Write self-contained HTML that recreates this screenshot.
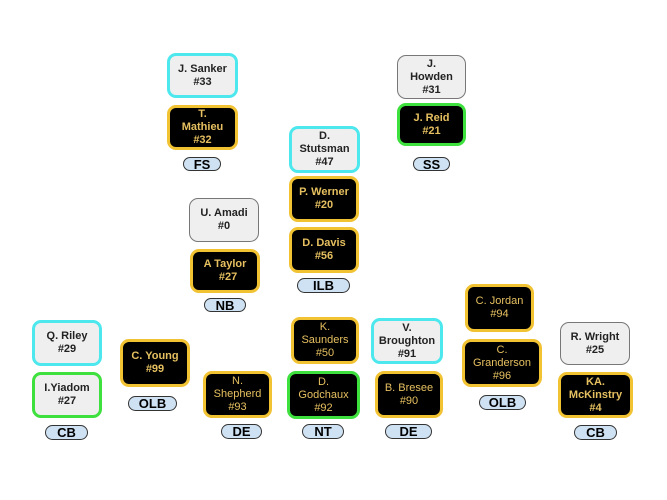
<!DOCTYPE html>
<html>
<head>
<meta charset="utf-8">
<style>
  html,body{margin:0;padding:0;background:#fff;}
  body{width:667px;height:500px;position:relative;overflow:hidden;font-family:"Liberation Sans",Arial,sans-serif;}
  .b{position:absolute;box-sizing:border-box;border-radius:9px;display:flex;align-items:center;justify-content:center;text-align:center;font-size:11px;line-height:13px;}
  .lt{background:#efefef;color:#222;font-weight:bold;}
  .dk{background:#000;color:#e6c060;}
  .bold{font-weight:bold;}
  .cy{border:3px solid #4de8ee;}
  .gy{border:1px solid #777;}
  .gd{border:3px solid #f1c232;}
  .gr{border:3px solid #3de03d;}
  .p{position:absolute;box-sizing:border-box;border:1px solid #333;background:#cfe2f3;border-radius:8px;display:flex;align-items:center;justify-content:center;font-weight:bold;font-size:13px;color:#000;line-height:13px;}
</style>
</head>
<body>
<!-- FS -->
<div class="b lt cy" style="left:167px;top:53px;width:71px;height:45px;">J. Sanker<br>#33</div>
<div class="b dk gd bold" style="left:167px;top:105px;width:71px;height:45px;">T.<br>Mathieu<br>#32</div>
<div class="p" style="left:183px;top:157px;width:38px;height:14px;">FS</div>

<!-- SS -->
<div class="b lt gy" style="left:397px;top:55px;width:69px;height:44px;">J.<br>Howden<br>#31</div>
<div class="b dk gr bold" style="left:397px;top:103px;width:69px;height:43px;">J. Reid<br>#21</div>
<div class="p" style="left:413px;top:157px;width:37px;height:14px;">SS</div>

<!-- ILB -->
<div class="b lt cy" style="left:289px;top:126px;width:71px;height:47px;">D.<br>Stutsman<br>#47</div>
<div class="b dk gd bold" style="left:289px;top:176px;width:70px;height:46px;">P. Werner<br>#20</div>
<div class="b dk gd bold" style="left:289px;top:227px;width:70px;height:46px;">D. Davis<br>#56</div>
<div class="p" style="left:297px;top:278px;width:53px;height:15px;">ILB</div>

<!-- NB -->
<div class="b lt gy" style="left:189px;top:198px;width:70px;height:44px;">U. Amadi<br>#0</div>
<div class="b dk gd bold" style="left:190px;top:249px;width:70px;height:44px;">A Taylor<br>&nbsp;&nbsp;#27</div>
<div class="p" style="left:204px;top:298px;width:42px;height:14px;">NB</div>

<!-- CB left -->
<div class="b lt cy" style="left:32px;top:320px;width:70px;height:46px;">Q. Riley<br>#29</div>
<div class="b lt gr" style="left:32px;top:372px;width:70px;height:46px;">I.Yiadom<br>#27</div>
<div class="p" style="left:45px;top:425px;width:43px;height:15px;">CB</div>

<!-- OLB left -->
<div class="b dk gd bold" style="left:120px;top:339px;width:70px;height:48px;">C. Young<br>#99</div>
<div class="p" style="left:128px;top:396px;width:49px;height:15px;">OLB</div>

<!-- DE left -->
<div class="b dk gd" style="left:203px;top:371px;width:69px;height:47px;">N.<br>Shepherd<br>#93</div>
<div class="p" style="left:221px;top:424px;width:41px;height:15px;">DE</div>

<!-- NT -->
<div class="b dk gd" style="left:291px;top:317px;width:68px;height:47px;">K.<br>Saunders<br>#50</div>
<div class="b dk gr" style="left:287px;top:371px;width:73px;height:48px;">D.<br>Godchaux<br>#92</div>
<div class="p" style="left:302px;top:424px;width:42px;height:15px;">NT</div>

<!-- DE right -->
<div class="b lt cy" style="left:371px;top:318px;width:72px;height:46px;">V.<br>Broughton<br>#91</div>
<div class="b dk gd" style="left:375px;top:371px;width:68px;height:47px;">B. Bresee<br>#90</div>
<div class="p" style="left:385px;top:424px;width:47px;height:15px;">DE</div>

<!-- OLB right -->
<div class="b dk gd" style="left:465px;top:284px;width:69px;height:48px;">C. Jordan<br>#94</div>
<div class="b dk gd" style="left:462px;top:339px;width:80px;height:48px;">C.<br>Granderson<br>#96</div>
<div class="p" style="left:479px;top:395px;width:47px;height:15px;">OLB</div>

<!-- CB right -->
<div class="b lt gy" style="left:560px;top:322px;width:70px;height:43px;">R. Wright<br>#25</div>
<div class="b dk gd bold" style="left:558px;top:372px;width:75px;height:46px;">KA.<br>McKinstry<br>#4</div>
<div class="p" style="left:574px;top:425px;width:43px;height:15px;">CB</div>
</body>
</html>
